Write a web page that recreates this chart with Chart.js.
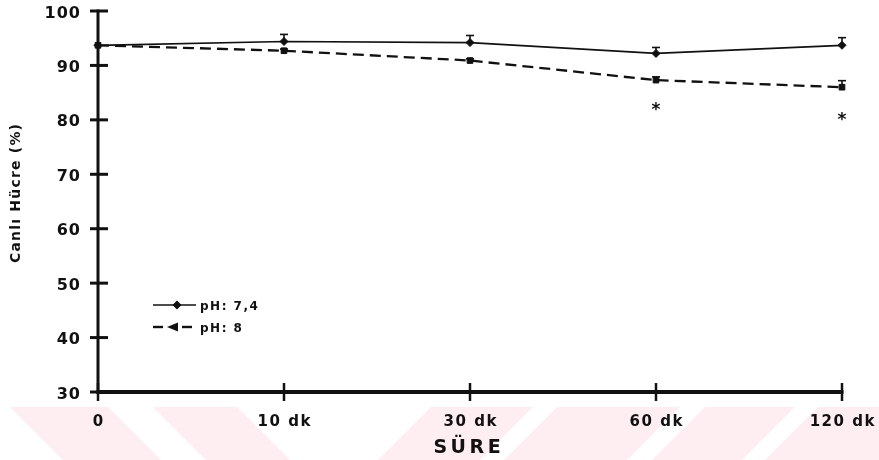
<!DOCTYPE html>
<html><head><meta charset="utf-8">
<style>html,body{margin:0;padding:0;background:#fff;} canvas{display:block}</style>
<script src="https://cdn.jsdelivr.net/npm/chart.js@4.4.1/dist/chart.umd.min.js"></script>
</head><body>
<canvas id="c" width="879" height="460"></canvas>
<script>
// ---- data ----
const categories = ['0', '10 dk', '30 dk', '60 dk', '120 dk'];
const seriesNames = ['pH: 7,4', 'pH: 8'];
const ph74 = [93.7, 94.4, 94.2, 92.2, 93.7];
const ph74Err = [0, 1.3, 1.3, 1.1, 1.4];
const ph8 = [93.7, 92.7, 90.9, 87.3, 86.0];
const ph8Err = [0, 0.3, 0.3, 0.6, 1.2];
const sigMarks = [null, null, null, 82.8, 80.9];
const yTicks = [30, 40, 50, 60, 70, 80, 90, 100];
const yTitle = 'Canlı Hücre (%)';
const xTitle = 'SÜRE';

// ---- drawing helpers ----
function spaced(ctx, s, x, y, align, sp) {
  ctx.letterSpacing = sp + 'px';
  const w = ctx.measureText(s).width - sp;
  const sx = align === 'right' ? x - w : align === 'center' ? x - w / 2 : x;
  ctx.textAlign = 'left';
  ctx.fillText(s, sx, y);
  ctx.letterSpacing = '0px';
}
function seg(ctx, x1, y1, x2, y2) { ctx.beginPath(); ctx.moveTo(x1, y1); ctx.lineTo(x2, y2); ctx.stroke(); }

const INK = '#111';
const deco = {
  id: 'deco',
  beforeDraw(chart) {
    const ctx = chart.ctx;
    ctx.save();
    ctx.fillStyle = 'rgb(254,238,241)';
    const t = 407, b = 460, d = b - t;
    [[10, 108], [153, 237]].forEach(([a, c]) => {
      ctx.beginPath(); ctx.moveTo(a, t); ctx.lineTo(c, t); ctx.lineTo(c + d, b); ctx.lineTo(a + d, b); ctx.closePath(); ctx.fill();
    });
    [[431, 533], [557, 680], [705, 795], [818, 940]].forEach(([a, c]) => {
      ctx.beginPath(); ctx.moveTo(a, t); ctx.lineTo(c, t); ctx.lineTo(c - d, b); ctx.lineTo(a - d, b); ctx.closePath(); ctx.fill();
    });
    ctx.restore();
  },
  beforeDatasetsDraw(chart) {
    const ctx = chart.ctx, xs = chart.scales.x, ys = chart.scales.y;
    const {left, right, bottom} = chart.chartArea;
    ctx.save();
    ctx.strokeStyle = INK; ctx.fillStyle = INK; ctx.lineCap = 'butt';
    // axes
    ctx.lineWidth = 3;
    seg(ctx, left, ys.getPixelForValue(100) - 1.5, left, bottom + 2);
    ctx.lineWidth = 4;
    seg(ctx, left - 1.5, bottom, right + 1.5, bottom);
    // y ticks + labels
    ctx.font = 'bold 16px "DejaVu Sans"';
    ctx.textBaseline = 'alphabetic';
    yTicks.forEach(v => {
      const py = ys.getPixelForValue(v);
      ctx.lineWidth = 3;
      seg(ctx, left - 8, py, left + 10, py);
      spaced(ctx, String(v), 80, py + 6.5, 'right', 1);
    });
    // x ticks + labels
    categories.forEach((c, i) => {
      const px = xs.getPixelForValue(i);
      ctx.lineWidth = 2.5;
      seg(ctx, px, bottom - 9, px, bottom + 9);
      ctx.font = 'bold 15px "DejaVu Sans"';
      spaced(ctx, c, px, 426, 'center', 1.5);
    });
    // titles
    ctx.font = 'bold 19px "DejaVu Sans"';
    spaced(ctx, xTitle, 467, 453, 'center', 3.5);
    ctx.save();
    ctx.translate(19.5, 193.5);
    ctx.rotate(-Math.PI / 2);
    ctx.font = 'bold 14px "DejaVu Sans"';
    spaced(ctx, yTitle, 0, 0, 'center', 1.2);
    ctx.restore();
    ctx.restore();
  },
  afterDatasetsDraw(chart) {
    const ctx = chart.ctx, xs = chart.scales.x, ys = chart.scales.y;
    ctx.save();
    ctx.strokeStyle = INK; ctx.fillStyle = INK; ctx.lineWidth = 1.6;
    [[ph74, ph74Err], [ph8, ph8Err]].forEach(([vals, errs]) => {
      vals.forEach((v, i) => {
        if (!errs[i]) return;
        const px = xs.getPixelForValue(i);
        const p0 = ys.getPixelForValue(v), p1 = ys.getPixelForValue(v + errs[i]);
        seg(ctx, px, p0, px, p1);
        seg(ctx, px - 4, p1, px + 4, p1);
      });
    });
    // significance marks
    ctx.font = 'bold 17px "DejaVu Sans"';
    ctx.textBaseline = 'alphabetic';
    sigMarks.forEach((v, i) => {
      if (v == null) return;
      const px = xs.getPixelForValue(i), py = ys.getPixelForValue(v);
      ctx.textAlign = 'center';
      ctx.fillText('*', px, py + 10);
    });
    // legend
    const lx = 153;
    ctx.lineWidth = 1.4;
    seg(ctx, lx, 305, lx + 43, 305);
    Chart.helpers.drawPoint(ctx, {pointStyle: 'rectRot', radius: 3.5, rotation: 0, borderWidth: 1}, lx + 24, 305);
    ctx.fill();
    ctx.lineWidth = 2.4;
    seg(ctx, lx, 327, lx + 10, 327);
    seg(ctx, lx + 29, 327, lx + 39, 327);
    ctx.beginPath(); ctx.moveTo(lx + 14, 327); ctx.lineTo(lx + 25, 322.5); ctx.lineTo(lx + 25, 331.5); ctx.closePath(); ctx.fill();
    ctx.font = 'bold 12px "DejaVu Sans"';
    ctx.textBaseline = 'alphabetic';
    spaced(ctx, seriesNames[0], 200, 309.5, 'left', 1.5);
    spaced(ctx, seriesNames[1], 200, 331.5, 'left', 1.5);
    ctx.restore();
  }
};

new Chart(document.getElementById('c'), {
  type: 'line',
  data: {
    labels: categories,
    datasets: [
      {label: seriesNames[0], data: ph74, borderColor: INK, backgroundColor: INK, borderWidth: 1.7,
       pointStyle: 'rectRot', pointRadius: 4, pointBorderWidth: 1, tension: 0, clip: false},
      {label: seriesNames[1], data: ph8, borderColor: INK, backgroundColor: INK, borderWidth: 2.3, borderDash: [11, 6],
       pointStyle: 'rect', pointRadius: 4, pointBorderWidth: 1, tension: 0, clip: false}
    ]
  },
  options: {
    responsive: false,
    animation: false,
    layout: {padding: {left: 98, right: 37, top: 11, bottom: 68}},
    plugins: {legend: {display: false}, tooltip: {enabled: false}},
    scales: {
      x: {type: 'category', display: false, offset: false},
      y: {type: 'linear', display: false, min: 30, max: 100}
    }
  },
  plugins: [deco]
});
</script>
</body></html>
